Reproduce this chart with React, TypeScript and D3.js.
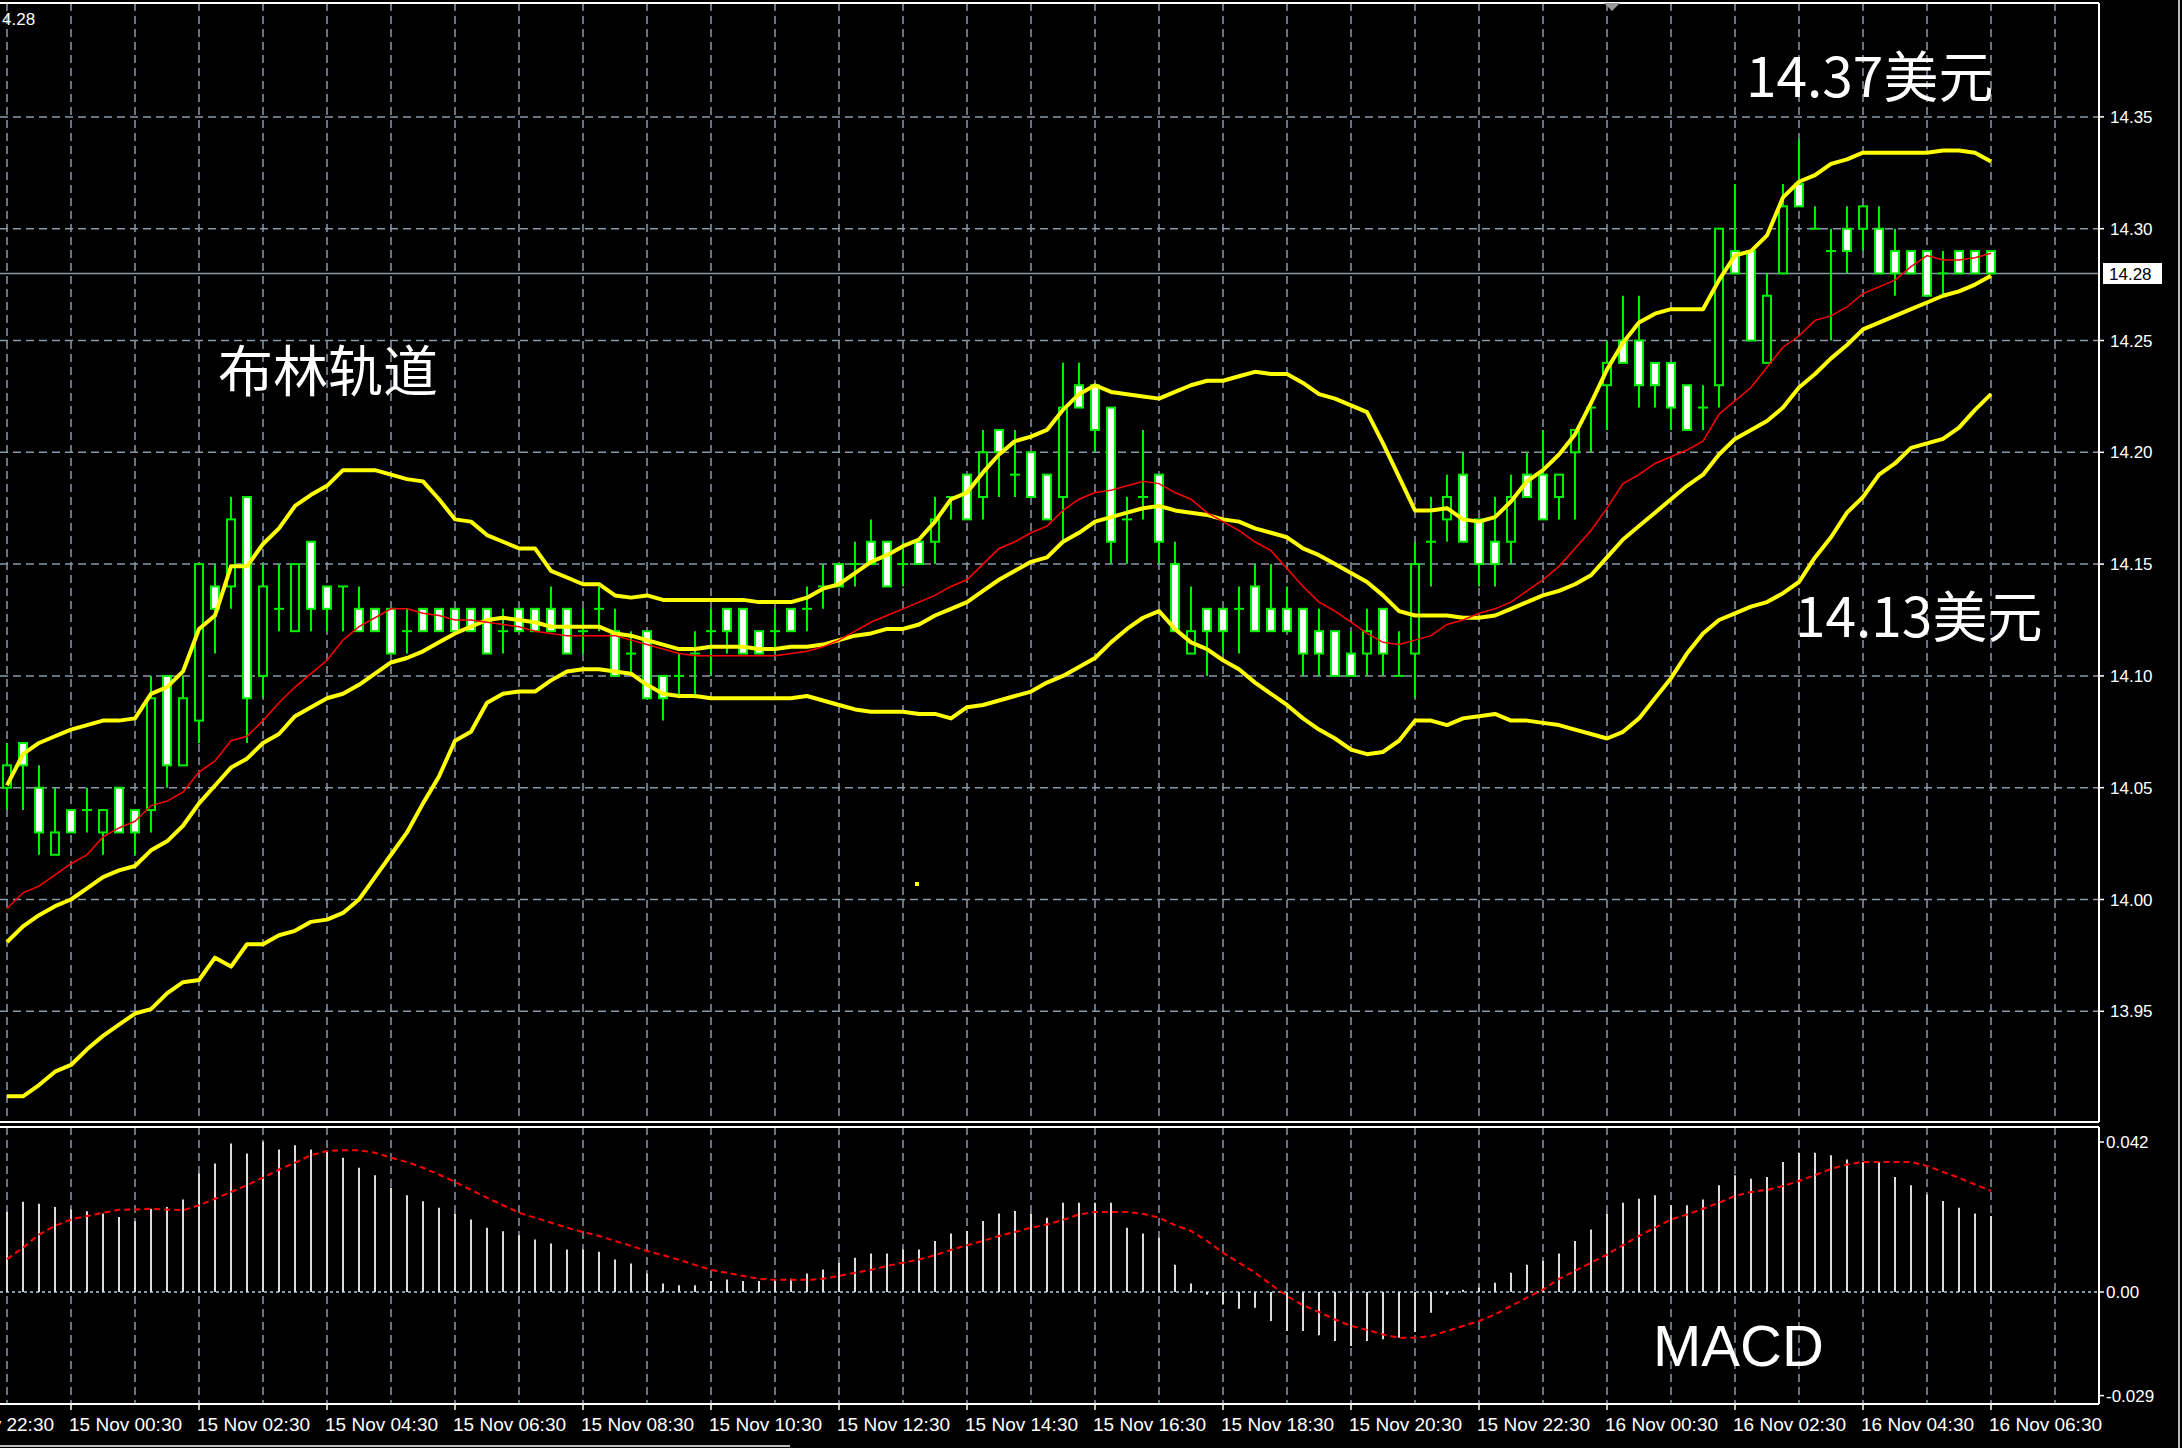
import React, { useEffect } from 'react';
import * as d3 from 'd3';

// 15-minute bars, 14 Nov 23:30 .. 16 Nov 06:30
const barOpen = [
  14.05, 14.07, 14.05, 14.02, 14.04, 14.04, 14.03, 14.05, 14.04, 14.04, 14.10, 14.06, 14.08, 14.14, 14.14, 14.18,
  14.10, 14.13, 14.12, 14.16, 14.14, 14.14, 14.13, 14.13, 14.13, 14.12, 14.13, 14.13, 14.13, 14.13, 14.13, 14.12,
  14.13, 14.13, 14.13, 14.13, 14.12, 14.13, 14.12, 14.11, 14.12, 14.10, 14.10, 14.11, 14.12, 14.13, 14.13, 14.12,
  14.12, 14.13, 14.13, 14.14, 14.15, 14.15, 14.16, 14.16, 14.15, 14.16, 14.16, 14.18, 14.19, 14.18, 14.21, 14.19,
  14.20, 14.19, 14.18, 14.23, 14.23, 14.22, 14.17, 14.18, 14.19, 14.15, 14.11, 14.13, 14.13, 14.13, 14.14, 14.13,
  14.13, 14.13, 14.12, 14.12, 14.11, 14.11, 14.13, 14.10, 14.11, 14.16, 14.17, 14.19, 14.17, 14.16, 14.16, 14.19,
  14.19, 14.18, 14.20, 14.22, 14.23, 14.25, 14.25, 14.24, 14.24, 14.23, 14.22, 14.23, 14.29, 14.29, 14.24, 14.28,
  14.32, 14.30, 14.29, 14.30, 14.30, 14.30, 14.29, 14.29, 14.29, 14.28, 14.29, 14.29, 14.29,
];
const barHigh = [
  14.07, 14.07, 14.06, 14.05, 14.04, 14.05, 14.04, 14.05, 14.04, 14.10, 14.10, 14.10, 14.15, 14.15, 14.18, 14.18,
  14.15, 14.15, 14.15, 14.16, 14.14, 14.14, 14.14, 14.13, 14.13, 14.13, 14.13, 14.13, 14.13, 14.13, 14.13, 14.13,
  14.13, 14.13, 14.14, 14.13, 14.13, 14.14, 14.13, 14.12, 14.12, 14.10, 14.11, 14.12, 14.13, 14.13, 14.13, 14.12,
  14.13, 14.13, 14.14, 14.15, 14.15, 14.16, 14.17, 14.16, 14.16, 14.16, 14.18, 14.18, 14.19, 14.21, 14.21, 14.21,
  14.20, 14.19, 14.24, 14.24, 14.23, 14.22, 14.18, 14.21, 14.19, 14.16, 14.14, 14.13, 14.13, 14.14, 14.15, 14.15,
  14.14, 14.13, 14.13, 14.12, 14.12, 14.13, 14.13, 14.12, 14.16, 14.18, 14.19, 14.20, 14.17, 14.18, 14.19, 14.20,
  14.21, 14.19, 14.21, 14.22, 14.25, 14.27, 14.27, 14.24, 14.24, 14.23, 14.23, 14.30, 14.32, 14.29, 14.28, 14.32,
  14.34, 14.31, 14.30, 14.31, 14.31, 14.31, 14.30, 14.29, 14.29, 14.29, 14.29, 14.29, 14.29,
];
const barLow = [
  14.04, 14.04, 14.02, 14.02, 14.03, 14.03, 14.02, 14.03, 14.02, 14.03, 14.05, 14.06, 14.07, 14.11, 14.13, 14.07,
  14.09, 14.12, 14.12, 14.12, 14.12, 14.12, 14.12, 14.12, 14.11, 14.11, 14.12, 14.12, 14.12, 14.12, 14.11, 14.11,
  14.12, 14.12, 14.12, 14.11, 14.11, 14.12, 14.10, 14.10, 14.09, 14.08, 14.09, 14.09, 14.10, 14.11, 14.11, 14.11,
  14.11, 14.12, 14.12, 14.13, 14.14, 14.14, 14.15, 14.14, 14.14, 14.15, 14.15, 14.17, 14.17, 14.17, 14.18, 14.18,
  14.18, 14.17, 14.16, 14.22, 14.20, 14.15, 14.15, 14.17, 14.15, 14.12, 14.11, 14.10, 14.11, 14.11, 14.12, 14.12,
  14.12, 14.10, 14.10, 14.10, 14.10, 14.10, 14.10, 14.10, 14.09, 14.14, 14.16, 14.16, 14.14, 14.14, 14.15, 14.18,
  14.17, 14.17, 14.17, 14.20, 14.21, 14.24, 14.22, 14.22, 14.21, 14.21, 14.21, 14.22, 14.28, 14.25, 14.24, 14.28,
  14.31, 14.30, 14.25, 14.28, 14.29, 14.28, 14.27, 14.28, 14.27, 14.27, 14.28, 14.28, 14.28,
];
const barClose = [
  14.06, 14.06, 14.03, 14.03, 14.03, 14.04, 14.04, 14.03, 14.03, 14.09, 14.06, 14.09, 14.15, 14.13, 14.17, 14.09,
  14.14, 14.13, 14.15, 14.13, 14.13, 14.14, 14.12, 14.12, 14.11, 14.12, 14.12, 14.12, 14.12, 14.12, 14.11, 14.12,
  14.12, 14.12, 14.12, 14.11, 14.12, 14.13, 14.10, 14.11, 14.09, 14.09, 14.10, 14.11, 14.12, 14.12, 14.11, 14.11,
  14.12, 14.12, 14.13, 14.14, 14.14, 14.15, 14.15, 14.14, 14.15, 14.15, 14.17, 14.18, 14.17, 14.20, 14.20, 14.19,
  14.18, 14.17, 14.22, 14.22, 14.21, 14.16, 14.17, 14.18, 14.16, 14.12, 14.12, 14.12, 14.12, 14.13, 14.12, 14.12,
  14.12, 14.11, 14.11, 14.10, 14.10, 14.12, 14.11, 14.10, 14.15, 14.16, 14.18, 14.16, 14.15, 14.15, 14.18, 14.18,
  14.17, 14.19, 14.21, 14.22, 14.24, 14.24, 14.23, 14.23, 14.22, 14.21, 14.22, 14.30, 14.28, 14.25, 14.27, 14.31,
  14.31, 14.30, 14.29, 14.29, 14.31, 14.28, 14.28, 14.28, 14.27, 14.28, 14.28, 14.28, 14.28,
];

// Bollinger bands (yellow) and the thin red moving average
const bandUpper = [
  14.051, 14.065, 14.070, 14.073, 14.076, 14.078, 14.080, 14.080, 14.081, 14.092, 14.095, 14.102, 14.121, 14.127, 14.149, 14.149,
  14.159, 14.166, 14.176, 14.181, 14.185, 14.192, 14.192, 14.192, 14.190, 14.188, 14.187, 14.179, 14.170, 14.169, 14.163, 14.160,
  14.157, 14.157, 14.147, 14.144, 14.141, 14.141, 14.136, 14.135, 14.136, 14.134, 14.134, 14.134, 14.134, 14.134, 14.134, 14.133,
  14.133, 14.133, 14.135, 14.139, 14.141, 14.146, 14.151, 14.154, 14.158, 14.161, 14.169, 14.179, 14.182, 14.191, 14.199, 14.205,
  14.207, 14.210, 14.219, 14.226, 14.230, 14.227, 14.226, 14.225, 14.224, 14.227, 14.230, 14.232, 14.232, 14.234, 14.236, 14.235,
  14.235, 14.231, 14.226, 14.224, 14.221, 14.218, 14.204, 14.189, 14.174, 14.174, 14.175, 14.170, 14.169, 14.171, 14.178, 14.187,
  14.192, 14.199, 14.208, 14.222, 14.237, 14.249, 14.258, 14.262, 14.264, 14.264, 14.264, 14.277, 14.288, 14.290, 14.297, 14.314,
  14.321, 14.324, 14.329, 14.331, 14.334, 14.334, 14.334, 14.334, 14.334, 14.335, 14.335, 14.334, 14.330,
];
const bandMiddle = [
  13.981, 13.988, 13.993, 13.997, 14.000, 14.005, 14.010, 14.013, 14.015, 14.022, 14.026, 14.033, 14.043, 14.051, 14.059, 14.063,
  14.070, 14.074, 14.082, 14.086, 14.090, 14.092, 14.096, 14.101, 14.106, 14.108, 14.111, 14.115, 14.119, 14.122, 14.125, 14.126,
  14.125, 14.124, 14.122, 14.122, 14.122, 14.122, 14.119, 14.118, 14.116, 14.114, 14.112, 14.112, 14.113, 14.113, 14.113, 14.112,
  14.112, 14.113, 14.113, 14.114, 14.116, 14.118, 14.119, 14.121, 14.121, 14.123, 14.127, 14.130, 14.133, 14.138, 14.143, 14.147,
  14.151, 14.153, 14.160, 14.164, 14.169, 14.171, 14.173, 14.175, 14.176, 14.174, 14.173, 14.172, 14.170, 14.169, 14.166, 14.164,
  14.162, 14.157, 14.154, 14.150, 14.146, 14.142, 14.136, 14.129, 14.127, 14.127, 14.127, 14.126, 14.126, 14.127, 14.130, 14.133,
  14.136, 14.138, 14.141, 14.145, 14.153, 14.161, 14.167, 14.173, 14.179, 14.185, 14.190, 14.199, 14.206, 14.210, 14.214, 14.220,
  14.229, 14.235, 14.242, 14.248, 14.255, 14.258, 14.261, 14.264, 14.267, 14.270, 14.272, 14.275, 14.279,
];
const bandLower = [
  13.912, 13.912, 13.917, 13.923, 13.926, 13.933, 13.939, 13.944, 13.949, 13.951, 13.958, 13.963, 13.964, 13.974, 13.970, 13.980,
  13.980, 13.984, 13.986, 13.990, 13.991, 13.994, 14.000, 14.010, 14.020, 14.030, 14.043, 14.055, 14.071, 14.075, 14.088, 14.092,
  14.093, 14.093, 14.098, 14.102, 14.103, 14.103, 14.102, 14.101, 14.096, 14.092, 14.091, 14.091, 14.090, 14.090, 14.090, 14.090,
  14.090, 14.090, 14.091, 14.089, 14.087, 14.085, 14.084, 14.084, 14.084, 14.083, 14.083, 14.081, 14.086, 14.087, 14.089, 14.091,
  14.093, 14.097, 14.100, 14.104, 14.108, 14.115, 14.121, 14.126, 14.129, 14.121, 14.115, 14.112, 14.107, 14.103, 14.097, 14.092,
  14.087, 14.081, 14.076, 14.072, 14.067, 14.065, 14.066, 14.071, 14.080, 14.080, 14.078, 14.081, 14.082, 14.083, 14.080, 14.080,
  14.079, 14.078, 14.076, 14.074, 14.072, 14.075, 14.081, 14.090, 14.099, 14.110, 14.119, 14.125, 14.128, 14.131, 14.133, 14.137,
  14.142, 14.153, 14.162, 14.173, 14.180, 14.190, 14.195, 14.202, 14.204, 14.206, 14.211, 14.219, 14.226,
];
const maRed = [
  13.996, 14.003, 14.006, 14.011, 14.016, 14.020, 14.028, 14.032, 14.035, 14.042, 14.044, 14.048, 14.057, 14.062, 14.071, 14.073,
  14.080, 14.088, 14.095, 14.101, 14.107, 14.116, 14.122, 14.126, 14.130, 14.130, 14.128, 14.127, 14.125, 14.125, 14.124, 14.123,
  14.122, 14.120, 14.119, 14.118, 14.118, 14.118, 14.118, 14.116, 14.114, 14.112, 14.110, 14.109, 14.109, 14.109, 14.109, 14.109,
  14.109, 14.110, 14.111, 14.113, 14.116, 14.120, 14.124, 14.127, 14.130, 14.133, 14.136, 14.140, 14.143, 14.150, 14.157, 14.160,
  14.164, 14.167, 14.174, 14.179, 14.182, 14.183, 14.185, 14.187, 14.186, 14.182, 14.179, 14.173, 14.169, 14.165, 14.160, 14.156,
  14.148, 14.140, 14.133, 14.129, 14.124, 14.119, 14.115, 14.114, 14.116, 14.118, 14.123, 14.125, 14.128, 14.130, 14.133, 14.138,
  14.143, 14.149, 14.157, 14.165, 14.175, 14.186, 14.190, 14.195, 14.198, 14.201, 14.205, 14.217, 14.223, 14.229, 14.238, 14.247,
  14.252, 14.259, 14.261, 14.265, 14.271, 14.274, 14.277, 14.283, 14.288, 14.286, 14.286, 14.287, 14.289,
];

// MACD histogram and signal
const macdHist = [
  0.0225, 0.0253, 0.0247, 0.0238, 0.0231, 0.0226, 0.0220, 0.0210, 0.0198, 0.0233, 0.0238, 0.0259, 0.0332, 0.0360, 0.0416, 0.0388,
  0.0421, 0.0399, 0.0411, 0.0399, 0.0397, 0.0376, 0.0348, 0.0327, 0.0292, 0.0271, 0.0254, 0.0236, 0.0220, 0.0203, 0.0180, 0.0170,
  0.0159, 0.0147, 0.0136, 0.0119, 0.0119, 0.0113, 0.0091, 0.0080, 0.0052, 0.0024, 0.0019, 0.0019, 0.0031, 0.0035, 0.0031, 0.0031,
  0.0035, 0.0037, 0.0052, 0.0063, 0.0082, 0.0096, 0.0108, 0.0108, 0.0119, 0.0119, 0.0143, 0.0164, 0.0171, 0.0199, 0.0220, 0.0227,
  0.0220, 0.0208, 0.0250, 0.0250, 0.0250, 0.0250, 0.0180, 0.0164, 0.0152, 0.0076, 0.0024, -0.0007, -0.0035, -0.0047, -0.0044, -0.0081,
  -0.0109, -0.0109, -0.0121, -0.0137, -0.0151, -0.0137, -0.0132, -0.0128, -0.0112, -0.0058, -0.0007, 0.0006, 0.0012, 0.0026, 0.0054, 0.0076,
  0.0087, 0.0108, 0.0143, 0.0175, 0.0220, 0.0250, 0.0261, 0.0271, 0.0243, 0.0243, 0.0259, 0.0299, 0.0327, 0.0317, 0.0322, 0.0364,
  0.0390, 0.0390, 0.0383, 0.0371, 0.0364, 0.0364, 0.0322, 0.0299, 0.0273, 0.0255, 0.0236, 0.0220, 0.0213,
];
const macdSignal = [
  0.0092, 0.0124, 0.0161, 0.0185, 0.0203, 0.0213, 0.0222, 0.0230, 0.0231, 0.0233, 0.0231, 0.0229, 0.0243, 0.0261, 0.0280, 0.0299,
  0.0320, 0.0343, 0.0362, 0.0383, 0.0395, 0.0397, 0.0397, 0.0390, 0.0376, 0.0364, 0.0348, 0.0329, 0.0308, 0.0286, 0.0264, 0.0243,
  0.0222, 0.0208, 0.0194, 0.0180, 0.0168, 0.0157, 0.0143, 0.0129, 0.0115, 0.0103, 0.0090, 0.0076, 0.0062, 0.0054, 0.0045, 0.0037,
  0.0034, 0.0034, 0.0034, 0.0037, 0.0045, 0.0054, 0.0062, 0.0073, 0.0082, 0.0091, 0.0103, 0.0118, 0.0131, 0.0143, 0.0157, 0.0168,
  0.0180, 0.0189, 0.0202, 0.0217, 0.0224, 0.0224, 0.0224, 0.0219, 0.0208, 0.0187, 0.0171, 0.0143, 0.0110, 0.0082, 0.0054, 0.0021,
  -0.0011, -0.0037, -0.0056, -0.0077, -0.0095, -0.0106, -0.0119, -0.0128, -0.0128, -0.0123, -0.0109, -0.0095, -0.0081, -0.0063, -0.0039, -0.0016,
  0.0007, 0.0037, 0.0059, 0.0082, 0.0105, 0.0131, 0.0157, 0.0180, 0.0203, 0.0217, 0.0233, 0.0250, 0.0269, 0.0280, 0.0286, 0.0297,
  0.0311, 0.0327, 0.0345, 0.0357, 0.0364, 0.0364, 0.0364, 0.0364, 0.0353, 0.0336, 0.0320, 0.0301, 0.0283,
];

const timeLabels = [
  '14 Nov 22:30', '15 Nov 00:30', '15 Nov 02:30', '15 Nov 04:30', '15 Nov 06:30', '15 Nov 08:30',
  '15 Nov 10:30', '15 Nov 12:30', '15 Nov 14:30', '15 Nov 16:30', '15 Nov 18:30', '15 Nov 20:30',
  '15 Nov 22:30', '16 Nov 00:30', '16 Nov 02:30', '16 Nov 04:30', '16 Nov 06:30',
];
const priceTicks = [13.95, 14.0, 14.05, 14.1, 14.15, 14.2, 14.25, 14.3, 14.35];
const macdTicks = [0.042, 0, -0.029];
const macdTickLabels = ['0.042', '0.00', '-0.029'];
const lastPrice = 14.28;

const W = 2182;
const H = 1448;
const RIGHT = 2099;
const MAIN_TOP = 3;
const MAIN_BOTTOM = 1122;
const SUB_TOP = 1127;
const SUB_BOTTOM = 1404;

const GREEN = '#00ee00';
const GRID = '#8899aa';
const AXIS_FONT = '"Liberation Sans", Arial, sans-serif';
const CJK_FONT = '"Noto Sans CJK SC", "Noto Sans", sans-serif';

const App: React.FC = () => {
  useEffect(() => {
    document.body.style.margin = '0';
    document.body.style.background = '#000';
  }, []);

  const x = d3.scaleLinear().domain([0, 124]).range([7, 1991]);
  const y = d3.scaleLinear().domain([13.9, 14.4]).range([1123.1, 5.1]);
  const ym = d3.scaleLinear().domain([-0.029, 0.042]).range([1395.6, 1142]);

  const gridBars = d3.range(0, 129, 4);
  const labelBars = timeLabels.map((_, j) => -4 + 8 * j);

  const bandLine = (vals: number[]) =>
    d3.line<number>().x((_, i) => x(i)).y(d => y(d))(vals) || '';
  const signalPath =
    d3.line<number>().x((_, i) => x(i)).y(d => ym(d))(macdSignal) || '';

  return (
    <svg width={W} height={H} style={{ display: 'block', background: '#000' }}>
      <rect x={0} y={0} width={W} height={H} fill="#000" />
      <defs>
        <clipPath id="mainClip">
          <rect x={0} y={MAIN_TOP} width={RIGHT} height={MAIN_BOTTOM - MAIN_TOP} />
        </clipPath>
        <clipPath id="subClip">
          <rect x={0} y={SUB_TOP} width={RIGHT} height={SUB_BOTTOM - SUB_TOP} />
        </clipPath>
      </defs>

      {/* grid */}
      <g stroke={GRID} strokeWidth={1.5} strokeDasharray="8,5">
        {gridBars.map(b => (
          <line key={'vg' + b} x1={x(b)} x2={x(b)} y1={MAIN_TOP} y2={MAIN_BOTTOM} />
        ))}
        {gridBars.map(b => (
          <line key={'vs' + b} x1={x(b)} x2={x(b)} y1={SUB_TOP} y2={SUB_BOTTOM} />
        ))}
        {priceTicks.map(p => (
          <line key={'hg' + p} x1={0} x2={RIGHT} y1={y(p)} y2={y(p)} />
        ))}
      </g>

      {/* current price line */}
      <line x1={0} x2={RIGHT} y1={y(lastPrice)} y2={y(lastPrice)} stroke={GRID} strokeWidth={1.5} />

      {/* candles */}
      <g clipPath="url(#mainClip)">
        {barOpen.map((o, i) => {
          const c = barClose[i];
          const cx = x(i);
          const top = y(Math.max(o, c));
          const bot = y(Math.min(o, c));
          return (
            <g key={'c' + i}>
              <line x1={cx} x2={cx} y1={y(barHigh[i])} y2={y(barLow[i])} stroke={GREEN} strokeWidth={2} />
              {o === c ? (
                <line x1={cx - 5} x2={cx + 5} y1={top} y2={top} stroke={GREEN} strokeWidth={2} />
              ) : (
                <rect
                  x={cx - 4}
                  y={top}
                  width={8}
                  height={bot - top}
                  fill={c < o ? '#ffffff' : '#000000'}
                  stroke={GREEN}
                  strokeWidth={2}
                />
              )}
            </g>
          );
        })}

        {/* bands */}
        {[bandUpper, bandMiddle, bandLower].map((b, k) => (
          <path key={'band' + k} d={bandLine(b)} fill="none" stroke="#ffff00" strokeWidth={4} strokeLinejoin="round" />
        ))}
        <path d={bandLine(maRed)} fill="none" stroke="#ff0000" strokeWidth={1.5} />
        <rect x={915} y={882} width={4} height={4} fill="#ffff00" />
      </g>

      {/* MACD */}
      <g clipPath="url(#subClip)">
        <line x1={0} x2={RIGHT} y1={ym(0)} y2={ym(0)} stroke={GRID} strokeWidth={2} strokeDasharray="3,3" />
        {macdHist.map((v, i) => (
          <line key={'h' + i} x1={x(i)} x2={x(i)} y1={ym(0)} y2={ym(v)} stroke="#dcdcdc" strokeWidth={2} />
        ))}
        <path d={signalPath} fill="none" stroke="#ff0000" strokeWidth={2} strokeDasharray="6,4" />
      </g>

      {/* frames */}
      <g stroke="#ffffff" strokeWidth={2} fill="none">
        <line x1={0} x2={RIGHT} y1={MAIN_TOP} y2={MAIN_TOP} />
        <line x1={RIGHT} x2={RIGHT} y1={MAIN_TOP} y2={MAIN_BOTTOM} />
        <line x1={0} x2={RIGHT} y1={MAIN_BOTTOM} y2={MAIN_BOTTOM} />
        <line x1={0} x2={RIGHT} y1={SUB_TOP} y2={SUB_TOP} />
        <line x1={RIGHT} x2={RIGHT} y1={SUB_TOP} y2={SUB_BOTTOM} />
        <line x1={0} x2={RIGHT} y1={SUB_BOTTOM} y2={SUB_BOTTOM} />
      </g>
      <line x1={2179} x2={2179} y1={0} y2={H} stroke="#bdbdbd" strokeWidth={2} />
      <line x1={0} x2={790} y1={1446} y2={1446} stroke="#bdbdbd" strokeWidth={2} />
      <polygon points="1604,3 1620,3 1612,11" fill="#9a9a9a" />

      {/* price axis */}
      <g fontFamily={AXIS_FONT} fontSize={17} fill="#ffffff">
        {priceTicks.map(p => (
          <g key={'pt' + p}>
            <line x1={RIGHT} x2={RIGHT + 5} y1={y(p)} y2={y(p)} stroke="#ffffff" strokeWidth={1.5} />
            <text x={2110} y={y(p)} dy="0.36em">
              {d3.format('.2f')(p)}
            </text>
          </g>
        ))}
        {macdTicks.map((v, k) => (
          <g key={'mt' + k}>
            <line x1={RIGHT} x2={RIGHT + 5} y1={ym(v)} y2={ym(v)} stroke="#ffffff" strokeWidth={1.5} />
            <text x={2106} y={ym(v)} dy="0.36em">
              {macdTickLabels[k]}
            </text>
          </g>
        ))}
        <text x={2} y={25}>4.28</text>
      </g>
      <rect x={2103} y={263} width={59} height={21} fill="#ffffff" />
      <text x={2109} y={y(lastPrice)} dy="0.36em" fontFamily={AXIS_FONT} fontSize={17} fill="#000000">
        {d3.format('.2f')(lastPrice)}
      </text>

      {/* time axis */}
      <g fontFamily={AXIS_FONT} fontSize={19} fill="#ffffff">
        {labelBars.map((b, j) => (
          <g key={'tl' + j}>
            <line x1={x(b)} x2={x(b)} y1={SUB_BOTTOM} y2={SUB_BOTTOM + 6} stroke="#ffffff" strokeWidth={1.5} />
            <text x={x(b) - 2} y={1431}>
              {timeLabels[j]}
            </text>
          </g>
        ))}
      </g>

      {/* annotations */}
      <g fill="#ffffff" fontFamily={CJK_FONT}>
        <text x={218} y={391} fontSize={55}>布林轨道</text>
        <text x={1746} y={97} fontSize={55}>14.37美元</text>
        <text x={1795} y={637} fontSize={55}>14.13美元</text>
      </g>
      <text x={1653} y={1366} fontSize={58} fill="#ffffff" fontFamily={AXIS_FONT}>
        MACD
      </text>
    </svg>
  );
};

export default App;
